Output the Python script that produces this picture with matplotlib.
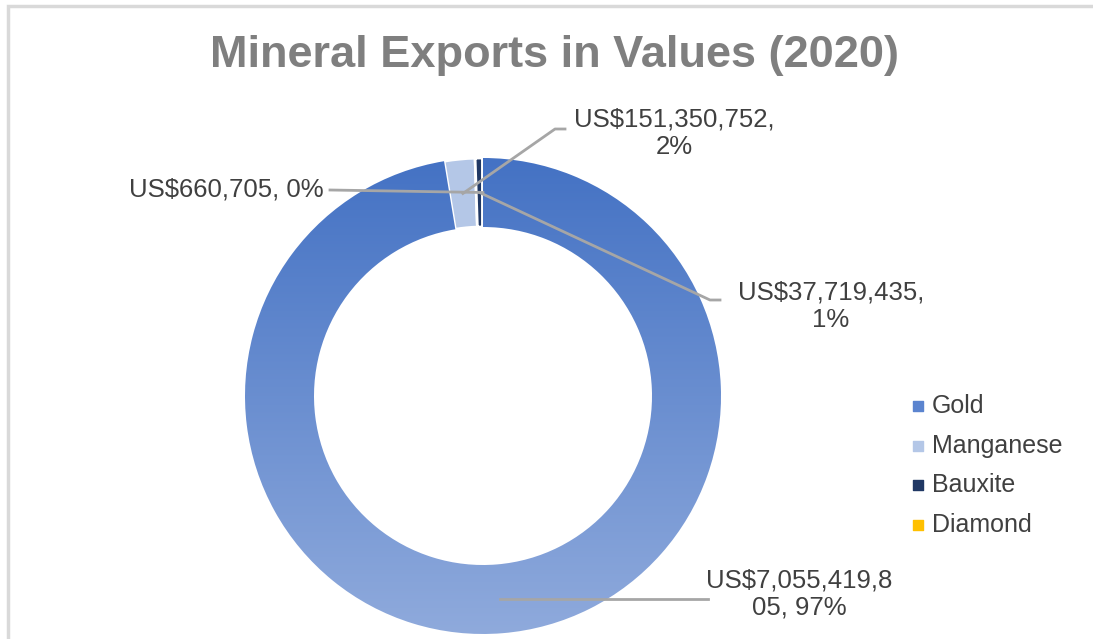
import numpy as np
import matplotlib.pyplot as plt
from matplotlib.patches import Rectangle
from matplotlib.colors import LinearSegmentedColormap

# Export values in US$ for 2020
minerals = ['Gold', 'Manganese', 'Bauxite', 'Diamond']
values = [7055419805, 151350752, 37719435, 660705]
value_labels = ['US$7,055,419,8\n05, 97%', 'US$151,350,752,\n2%',
                'US$37,719,435,\n1%', 'US$660,705, 0%']
colors = ['#4472C4', '#B4C7E7', '#203864', '#FFC000']
legend_colors = ['#5B84CF', '#B4C7E7', '#203864', '#FFC000']

W, H = 1093, 639
fig = plt.figure(figsize=(W / 100, H / 100), dpi=100)
ax = fig.add_axes([0, 0, 1, 1])

plt.rcParams['font.family'] = ['Liberation Sans', 'DejaVu Sans']

cx, cy, r_out, ring = 483, H - 396, 238, 69

wedges, _ = ax.pie(values, colors=colors, startangle=90, counterclock=False,
                   radius=r_out, center=(cx, cy),
                   wedgeprops=dict(width=ring, edgecolor='white', linewidth=2))

# vertical gradient on the gold slice
grad = LinearSegmentedColormap.from_list('g', ['#8FAADC', '#4472C4'])
img = ax.imshow(np.linspace(0, 1, 256).reshape(-1, 1), cmap=grad, aspect='auto',
                origin='lower', extent=(cx - r_out, cx + r_out, cy - r_out, cy + r_out),
                zorder=wedges[0].get_zorder() + 0.1)
img.set_clip_path(wedges[0])

ax.set_xlim(0, W)
ax.set_ylim(0, H)
ax.set_aspect('equal')
ax.axis('off')

# leader anchors at the middle of each ring segment
def anchor(w):
    a = np.deg2rad((w.theta1 + w.theta2) / 2)
    rm = r_out - ring / 2
    return cx + rm * np.cos(a), cy + rm * np.sin(a)

txt = dict(fontsize=18.5, color='#404040', ha='center', va='center',
           multialignment='center', zorder=6)
lc = dict(color='#A6A6A6', lw=2, zorder=5)

# Gold
ax0, ay0 = anchor(wedges[0])
ax.plot([ax0, 708], [ay0, ay0], **lc)
ax.text(799, H - 594, value_labels[0], **txt)

# Manganese
mx, my = anchor(wedges[1])
ax.plot([mx, 555, 565], [my, H - 129, H - 129], **lc)
ax.text(674, H - 133, value_labels[1], **txt)

# Bauxite
bx, by = anchor(wedges[2])
ax.plot([bx, 710, 720], [by, H - 300, H - 300], **lc)
ax.text(831, H - 306, value_labels[2], **txt)

# Diamond
dx, dy = anchor(wedges[3])
ax.plot([330, dx], [H - 190, dy], **lc)
ax.text(324, H - 190, value_labels[3], **dict(txt, ha='right'))

# legend
for i, (name, c) in enumerate(zip(minerals, legend_colors)):
    y = H - (406 + 39.5 * i)
    ax.scatter([918], [y], marker='s', s=45, color=c, zorder=6)
    ax.text(932, y, name, fontsize=18, color='#404040', va='center', zorder=6)

ax.text(555, H - 56, 'Mineral Exports in Values (2020)', fontsize=32.5,
        fontweight='bold', color='#7F7F7F', ha='center', va='center')

# chart frame
fig.patches.append(Rectangle((8, -20), W + 20, H - 6 + 20, transform=None,
                             fill=False, edgecolor='#D9D9D9', lw=2.5))

fig.savefig('out.png', dpi=100)
